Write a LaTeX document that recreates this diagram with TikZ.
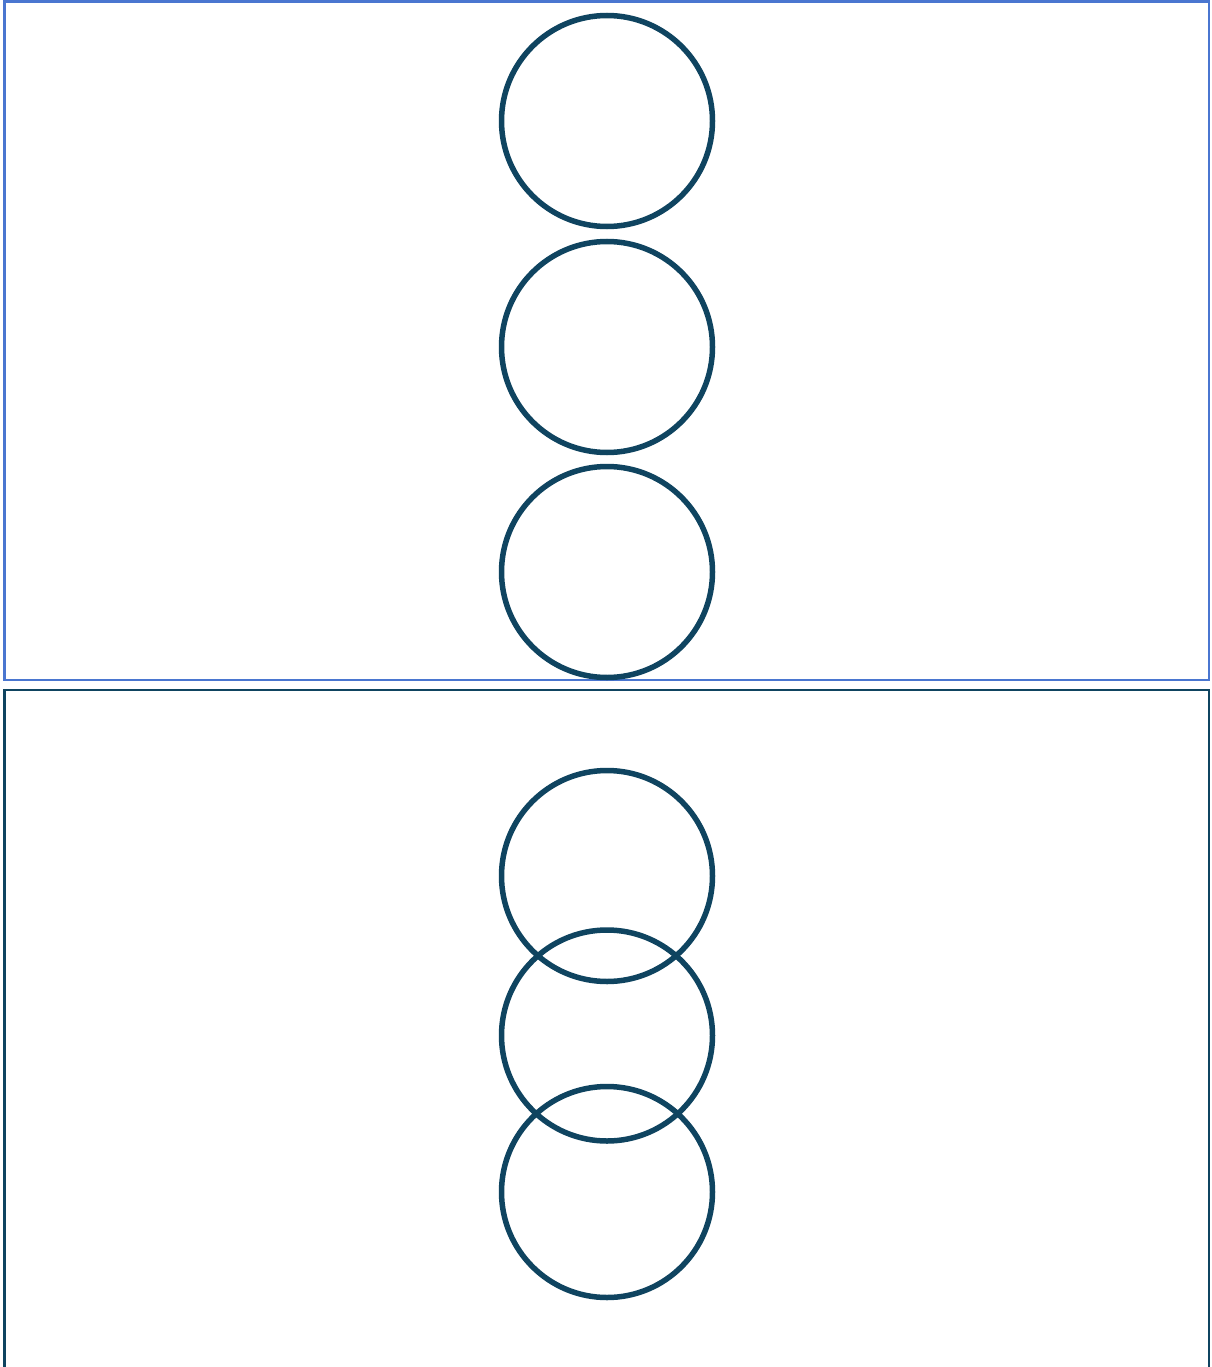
\documentclass[tikz,border=0pt]{standalone}
\begin{document}
\begin{tikzpicture}[x=1pt,y=-1pt,
  ring/.style={circle,draw=ringcol,line width=5.5pt,minimum size=211pt,inner sep=0pt},
  topframe/.style={draw=frameblue,line width=2.5pt},
  botframe/.style={draw=ringcol,line width=2.5pt}]
\definecolor{ringcol}{HTML}{0F4460}
\definecolor{frameblue}{HTML}{4A76D0}
\useasboundingbox (0,0) rectangle (1211,1367);
\clip (0,0) rectangle (1211,1367);
\fill[white] (0,0) rectangle (1211,1367);
\draw[topframe] (4.5,1.5) rectangle (1209,680);
\draw[botframe] (4.5,690) rectangle (1209,1380);
\node[ring] (a1) at (607,121) {};
\node[ring] (a2) at (607,347) {};
\node[ring] (a3) at (607,572) {};
\node[ring] (b1) at (607,876) {};
\node[ring] (b2) at (607,1035.5) {};
\node[ring] (b3) at (607,1192) {};
\end{tikzpicture}
\end{document}
